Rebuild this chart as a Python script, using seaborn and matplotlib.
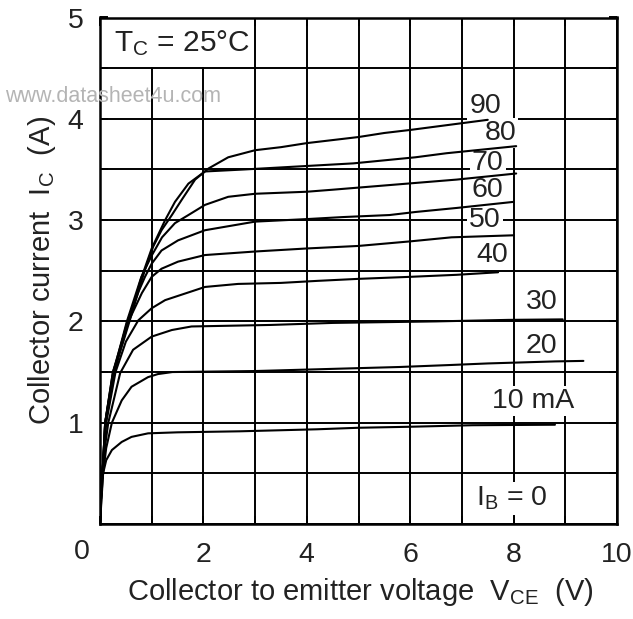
import numpy as np
import pandas as pd
import matplotlib
matplotlib.use("Agg")
import matplotlib.pyplot as plt
import seaborn as sns
from matplotlib.patches import Rectangle
from matplotlib.ticker import FixedLocator, FixedFormatter

# ---------------- data ----------------
v10 = [0, 0.03, 0.06, 0.12, 0.23, 0.42, 0.61, 0.93, 1.5, 2.7, 4.2, 5.0, 6.0, 7.2, 8.8]
i10 = [0, 0.25, 0.5, 0.63, 0.73, 0.81, 0.86, 0.895, 0.905, 0.915, 0.935, 0.95, 0.96, 0.975, 0.98]

v20 = [0, 0.03, 0.06, 0.12, 0.23, 0.42, 0.61, 0.93, 1.12, 1.4, 3.0, 4.4, 5.8, 6.8, 7.5, 8.8, 9.35]
i20 = [0, 0.3, 0.5, 0.75, 1.0, 1.22, 1.355, 1.45, 1.48, 1.50, 1.51, 1.53, 1.55, 1.57, 1.585, 1.605, 1.61]

v30 = [0, 0.03, 0.08, 0.16, 0.39, 0.64, 1.0, 1.39, 1.77, 3.3, 4.5, 6.5, 7.9, 8.95]
i30 = [0, 0.4, 0.7, 1.0, 1.49, 1.72, 1.85, 1.915, 1.95, 1.965, 1.985, 2.0, 2.015, 2.02]

v40 = [0, 0.03, 0.06, 0.12, 0.3, 0.5, 0.74, 1.0, 1.26, 2.03, 2.67, 3.5, 4.2, 5.0, 6.0, 6.9, 7.7]
i40 = [0, 0.4, 0.6, 1.0, 1.5, 1.8, 2.01, 2.13, 2.21, 2.34, 2.37, 2.38, 2.40, 2.42, 2.44, 2.46, 2.485]

v50 = [0, 0.03, 0.06, 0.11, 0.28, 0.55, 0.81, 1.0, 1.19, 1.51, 2.03, 3.0, 4.0, 5.0, 6.0, 6.8, 8.0]
i50 = [0, 0.4, 0.6, 1.0, 1.5, 2.0, 2.28, 2.44, 2.52, 2.59, 2.655, 2.69, 2.72, 2.745, 2.79, 2.83, 2.85]

v60 = [0, 0.03, 0.06, 0.10, 0.27, 0.53, 0.75, 0.87, 1.0, 1.19, 1.51, 2.03, 3.0, 4.0, 4.7, 5.6, 6.1, 6.9, 8.0]
i60 = [0, 0.4, 0.6, 1.0, 1.5, 2.0, 2.3, 2.44, 2.57, 2.70, 2.80, 2.90, 2.985, 3.01, 3.03, 3.05, 3.08, 3.12, 3.18]

v70 = [0, 0.03, 0.06, 0.10, 0.26, 0.52, 0.8, 1.0, 1.2, 1.45, 1.71, 2.03, 2.48, 3.0, 4.0, 4.5, 5.7, 6.9, 8.05]
i70 = [0, 0.4, 0.6, 1.0, 1.5, 2.0, 2.44, 2.65, 2.83, 2.97, 3.05, 3.15, 3.23, 3.26, 3.28, 3.30, 3.35, 3.40, 3.46]

v80 = [0, 0.03, 0.06, 0.10, 0.25, 0.48, 0.62, 0.78, 1.0, 1.26, 1.45, 1.71, 2.03, 2.8, 3.5, 4.2, 4.9, 5.5, 6.1, 6.7, 8.05]
i80 = [0, 0.4, 0.6, 1.0, 1.5, 1.9, 2.1, 2.40, 2.72, 3.0, 3.18, 3.36, 3.48, 3.50, 3.52, 3.54, 3.56, 3.59, 3.62, 3.66, 3.73]

v90 = [0, 0.03, 0.06, 0.10, 0.25, 0.45, 0.6, 0.71, 0.87, 1.03, 1.19, 1.39, 1.58, 1.84, 2.10, 2.48, 3.0, 3.5,
       4.0, 4.5, 5.0, 5.5, 6.0, 6.9, 7.5]
i90 = [0, 0.4, 0.6, 1.0, 1.5, 1.8, 2.05, 2.24, 2.51, 2.74, 2.90, 3.05, 3.20, 3.40, 3.51, 3.62, 3.69, 3.72,
       3.76, 3.79, 3.82, 3.86, 3.89, 3.95, 3.99]

base_currents = ["10", "20", "30", "40", "50", "60", "70", "80", "90"]
curve_labels = ["10 mA", "20", "30", "40", "50", "60", "70", "80", "90"]
label_v = [8.38, 8.54, 8.54, 7.58, 7.45, 7.50, 7.50, 7.74, 7.45]
label_i = [1.21, 1.76, 2.195, 2.66, 3.00, 3.30, 3.56, 3.86, 4.13]

x_ticks = [0, 1, 2, 3, 4, 5, 6, 7, 8, 9, 10]
x_ticklabels = ["", "", "2", "", "4", "", "6", "", "8", "", "10"]
y_ticks = [0, 0.5, 1, 1.5, 2, 2.5, 3, 3.5, 4, 4.5, 5]
y_ticklabels = ["", "", "1", "", "2", "", "3", "", "4", "", "5"]

curves_v = [v10, v20, v30, v40, v50, v60, v70, v80, v90]
curves_i = [i10, i20, i30, i40, i50, i60, i70, i80, i90]

frames = []
for ib, vv, ii in zip(base_currents, curves_v, curves_i):
    frames.append(pd.DataFrame({"VCE": vv, "IC": ii, "IB": ib}))
df = pd.concat(frames, ignore_index=True)

# ---------------- figure ----------------
sns.set_theme(style="white")
plt.rcParams["font.family"] = ["Liberation Sans", "DejaVu Sans"]
plt.rcParams["mathtext.default"] = "regular"

TXT = "#222222"
FS = 20.5

fig = plt.figure(figsize=(6.33, 6.19), dpi=100)
ax = fig.add_axes([100 / 633, 95 / 619, 517 / 633, 506.5 / 619])

sns.lineplot(data=df, x="VCE", y="IC", units="IB", estimator=None, sort=False,
             color="black", linewidth=1.5, ax=ax, zorder=3, legend=False)

ax.set_xlim(0, 10)
ax.set_ylim(0, 5)
ax.xaxis.set_major_locator(FixedLocator(x_ticks))
ax.xaxis.set_major_formatter(FixedFormatter(x_ticklabels))
ax.yaxis.set_major_locator(FixedLocator(y_ticks))
ax.yaxis.set_major_formatter(FixedFormatter(y_ticklabels))
ax.grid(True, color="black", linewidth=1.4)
ax.set_axisbelow(True)
ax.tick_params(axis="both", which="major", direction="in", length=6, width=1.4,
               color="black", labelsize=FS, labelcolor=TXT,
               top=True, right=True, bottom=True, left=True)
ax.tick_params(axis="x", pad=13)
ax.tick_params(axis="y", pad=12)
for s in ax.spines.values():
    s.set_color("black")
    s.set_linewidth(1.8)

# corner zero
ax.text(-0.035, -0.055, "0", transform=ax.transAxes, ha="center", va="center",
        fontsize=FS, color=TXT)

ax.set_xlabel("Collector to emitter voltage  V$_{CE}$  (V)", fontsize=21, color=TXT)
ax.set_ylabel("Collector current  I$_C$  (A)", fontsize=21, color=TXT)
ax.xaxis.set_label_coords(0.503, -0.103)
ax.yaxis.set_label_coords(-0.081, 0.5)

# temperature box (cleared region)
ax.add_patch(Rectangle((0.03, 4.515), 2.94, 0.47, facecolor="white", edgecolor="none", zorder=1))
ax.text(0.27, 4.75, "T$_C$ = 25°C", fontsize=21.5, ha="left", va="center", color=TXT, zorder=4)

for lab, lv, li in zip(curve_labels, label_v, label_i):
    ax.text(lv, li, lab, fontsize=FS, ha="center", va="center", color=TXT, zorder=2.5,
            bbox=dict(facecolor="white", edgecolor="none", pad=1.5))

ax.text(7.96, 0.25, "I$_B$ = 0", fontsize=FS, ha="center", va="center", color=TXT, zorder=2.5,
        bbox=dict(facecolor="white", edgecolor="none", pad=2))

fig.text(5 / 633, 1 - 97 / 619, "www.datasheet4u.com", fontsize=15.5, color="#b4b4b4",
         ha="left", va="center")

fig.savefig("out.png", dpi=100, facecolor="white")
